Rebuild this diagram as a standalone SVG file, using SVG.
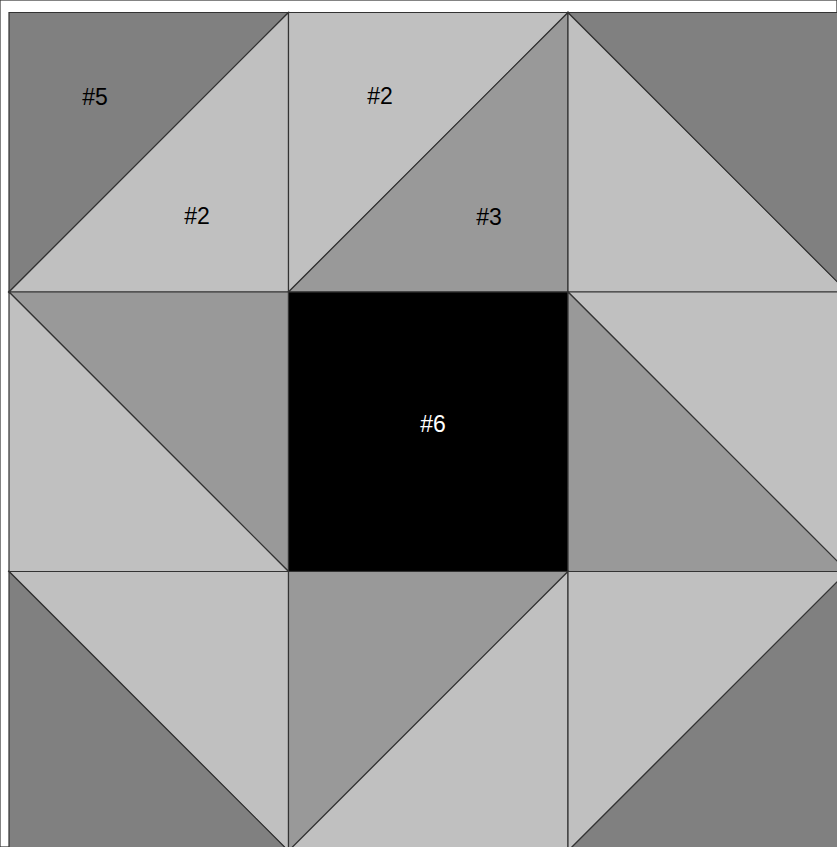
<svg xmlns="http://www.w3.org/2000/svg" width="837" height="847" viewBox="0 0 837 847">
<style>
.dk{fill:#808080}
.lt{fill:#c0c0c0}
.md{fill:#999999}
.bk{fill:#000000}
polygon,rect{stroke:#333333;stroke-width:1.2}
text{font-family:"Liberation Sans",Arial,sans-serif;font-size:23px;fill:#000;text-anchor:middle}
.w{fill:#ffffff}
</style>
<rect x="0" y="0" width="837" height="847" fill="#ffffff" stroke="none"/>
<g id="c00">
<polygon class="dk" points="9,12.5 288.5,12.5 9,292"/>
<polygon class="lt" points="288.5,12.5 288.5,292 9,292"/>
<text x="95" y="105">#5</text>
<text x="197" y="224">#2</text>
</g>
<g id="c01">
<polygon class="lt" points="288.5,12.5 568,12.5 288.5,292"/>
<polygon class="md" points="568,12.5 568,292 288.5,292"/>
<text x="380" y="104">#2</text>
<text x="489" y="225">#3</text>
</g>
<g id="c02">
<polygon class="lt" points="568,12.5 847.5,292 568,292"/>
<polygon class="dk" points="568,12.5 847.5,12.5 847.5,292"/>
</g>
<g id="c10">
<polygon class="md" points="9,292 288.5,292 288.5,571.5"/>
<polygon class="lt" points="9,292 288.5,571.5 9,571.5"/>
</g>
<g id="c11">
<rect class="bk" x="288.5" y="292" width="279.5" height="279.5"/>
<text class="w" x="433" y="432">#6</text>
</g>
<g id="c12">
<polygon class="lt" points="568,292 847.5,292 847.5,571.5"/>
<polygon class="md" points="568,292 847.5,571.5 568,571.5"/>
</g>
<g id="c20">
<polygon class="lt" points="9,571.5 288.5,571.5 288.5,851"/>
<polygon class="dk" points="9,571.5 288.5,851 9,851"/>
</g>
<g id="c21">
<polygon class="md" points="288.5,571.5 568,571.5 288.5,851"/>
<polygon class="lt" points="568,571.5 568,851 288.5,851"/>
</g>
<g id="c22">
<polygon class="lt" points="568,571.5 847.5,571.5 568,851"/>
<polygon class="dk" points="847.5,571.5 847.5,851 568,851"/>
</g>
</svg>
